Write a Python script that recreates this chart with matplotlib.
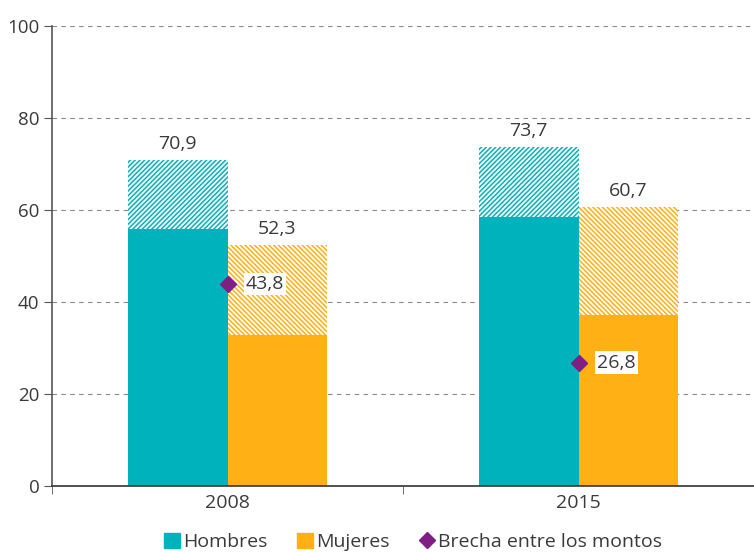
import numpy as np
import matplotlib.pyplot as plt
from matplotlib.patches import Patch
from matplotlib.lines import Line2D

years = ['2008', '2015']
hombres_total = [70.9, 73.7]
hombres_base = [55.9, 58.4]
mujeres_total = [52.3, 60.7]
mujeres_base = [32.8, 37.1]
brecha = [43.8, 26.8]

teal = '#00B2BB'
orange = '#FFB014'
purple = '#7F1F84'
txt = '#3a3a3a'

plt.rcParams['font.family'] = ['Open Sans', 'DejaVu Sans']
plt.rcParams['hatch.linewidth'] = 1.1

def fmt(v):
    return f"{v:.1f}".replace('.', ',')

fig = plt.figure(figsize=(7.54, 5.52), dpi=100)
ax = fig.add_axes([0.069, 0.12, 0.931, 0.833])

x = np.arange(len(years))
w = 0.284

# solid part
ax.bar(x - w/2, hombres_base, w, color=teal, zorder=2)
ax.bar(x + w/2, mujeres_base, w, color=orange, zorder=2)
# hatched part on top
ax.bar(x - w/2, np.array(hombres_total) - np.array(hombres_base), w, bottom=hombres_base,
       facecolor='white', edgecolor=teal, hatch='/' * 7, linewidth=0, zorder=2)
ax.bar(x + w/2, np.array(mujeres_total) - np.array(mujeres_base), w, bottom=mujeres_base,
       facecolor='white', edgecolor=orange, hatch='\\' * 7, linewidth=0, zorder=2)

for i in range(len(years)):
    ax.text(x[i] - w/2, hombres_total[i] + 1.5, fmt(hombres_total[i]), ha='center', va='bottom',
            fontsize=14, color=txt)
    ax.text(x[i] + w/2, mujeres_total[i] + 1.5, fmt(mujeres_total[i]), ha='center', va='bottom',
            fontsize=14, color=txt)

ax.plot(x, brecha, linestyle='none', marker='D', markersize=8.5, color=purple, zorder=4)
for i in range(len(years)):
    ax.text(x[i] + 0.052, brecha[i], fmt(brecha[i]), ha='left', va='center', fontsize=14,
            color=txt, zorder=5,
            bbox=dict(facecolor='white', edgecolor='none', pad=1.5))

ax.set_ylim(0, 100)
ax.set_xlim(-0.5, 1.47)
ax.set_yticks(np.arange(0, 101, 20))
ax.yaxis.grid(True, linestyle=(0, (4, 4)), color='#888888', linewidth=0.8, zorder=0)
ax.set_axisbelow(True)

ax.set_xticks(x)
ax.set_xticklabels(years)
ax.set_xticks([-0.5, 0.5, 1.5], minor=True)
ax.tick_params(axis='x', which='major', length=0, labelsize=14, labelcolor=txt, pad=6)
ax.tick_params(axis='x', which='minor', length=6, direction='out', color='#555555')
ax.tick_params(axis='y', length=6, direction='out', color='#555555', labelsize=13.5,
               labelcolor=txt, pad=3)

for s in ['top', 'right']:
    ax.spines[s].set_visible(False)
ax.spines['left'].set_color('#555555')
ax.spines['bottom'].set_color('#333333')
ax.spines['left'].set_linewidth(1.2)
ax.spines['bottom'].set_linewidth(1.2)

handles = [Patch(color=teal, label='Hombres'),
           Patch(color=orange, label='Mujeres'),
           Line2D([], [], linestyle='none', marker='D', markersize=8.5, color=purple,
                  label='Brecha entre los montos')]
fig.legend(handles=handles, loc='lower center', bbox_to_anchor=(0.548, -0.03), ncol=3,
           frameon=False, fontsize=14, handlelength=0.85, handleheight=0.85,
           handletextpad=0.15, columnspacing=1.5, labelcolor=txt)

fig.savefig('out.png', dpi=100)
